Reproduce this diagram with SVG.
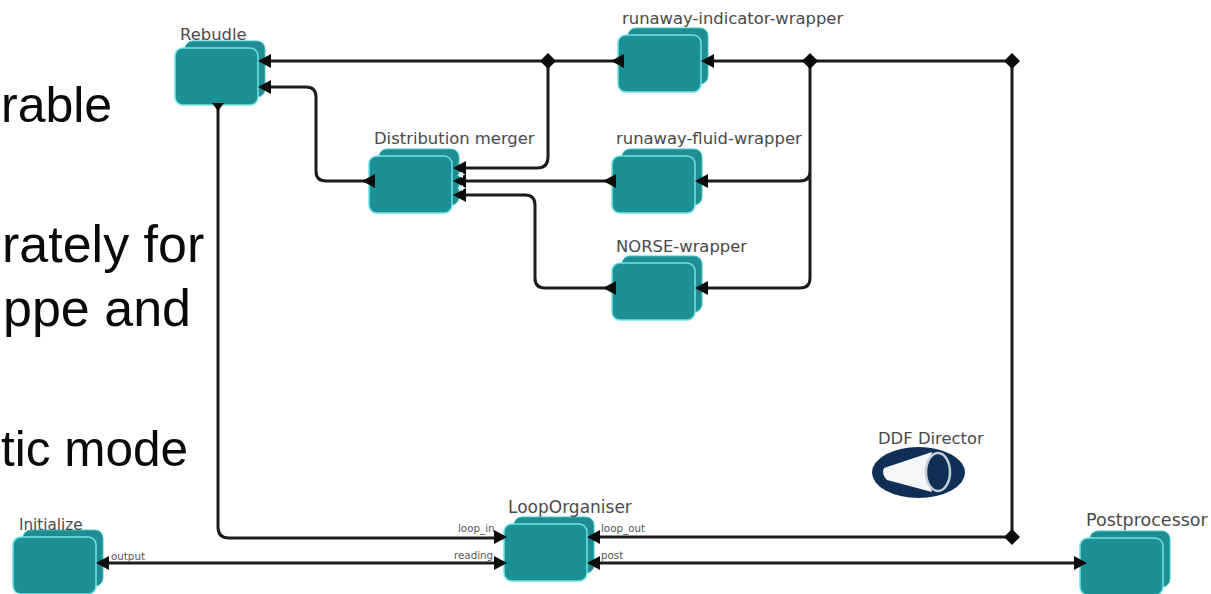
<svg xmlns="http://www.w3.org/2000/svg" width="1211" height="594" viewBox="0 0 1211 594">
<style>
.big{font-family:"Liberation Sans",Arial,sans-serif;font-size:52px;fill:#0a0a0a}
.lab{font-family:"DejaVu Sans",sans-serif;font-size:16.4px;fill:#4a4a4a}
.port{font-family:"DejaVu Sans",sans-serif;font-size:10.3px;fill:#555}
.back{fill:#1f8d91;stroke:#45c6c9;stroke-width:1}
.front{fill:#1b9196;stroke:#6fe3e6;stroke-width:1.5}
.w{fill:none;stroke:#1c1c1c;stroke-width:3}
.a{fill:#0c0c0c}
</style>
<defs>
<g id="pair"><rect class="back" x="10" y="-7" width="80" height="56" rx="8"/><rect class="front" x="0" y="0" width="83" height="57" rx="8"/></g>
<path id="d" d="M0-8L8 0L0 8L-8 0Z"/>
<path id="ar" d="M0 0L-13-7V7Z"/>
<path id="al" d="M0 0L13-7V7Z"/>
</defs>
<rect width="1211" height="594" fill="#fff"/>
<g id="slide-text">
<text class="big" x="1" y="122" style="font-size:50px">rable</text>
<text class="big" x="2" y="262">rately for</text>
<text class="big" x="3" y="326">ppe and</text>
<text class="big" x="1" y="466" style="font-size:49.500px">tic mode</text>
</g>
<g id="connectors">
<path class="w" d="M258 61H1012V537M586 537H1012"/>
<path class="w" d="M548 61V157Q548 168 537 168H455"/>
<path class="w" d="M258 87H306Q316 87 316 97V171Q316 181 326 181H368"/>
<path class="w" d="M453 181H800Q810 181 810 171V61M695 288H800Q810 288 810 278V171"/>
<path class="w" d="M455 195H525Q535 195 535 205V278Q535 288 545 288H612"/>
<path class="w" d="M218 105V527Q218 538 229 538H504"/>
<path class="w" d="M100 563H504M586 563H1082"/>
</g>
<g id="rebudle"><use href="#pair" x="175" y="48"/><text class="lab" x="180" y="40">Rebudle</text></g>
<g id="distribution-merger"><use href="#pair" x="369" y="156"/><text class="lab" x="374" y="144">Distribution merger</text></g>
<g id="runaway-indicator-wrapper"><use href="#pair" x="618" y="35"/><text class="lab" x="622" y="24">runaway-indicator-wrapper</text></g>
<g id="runaway-fluid-wrapper"><use href="#pair" x="612" y="156"/><text class="lab" x="616" y="144">runaway-fluid-wrapper</text></g>
<g id="norse-wrapper"><use href="#pair" x="612" y="263"/><text class="lab" x="616" y="252">NORSE-wrapper</text></g>
<g id="initialize"><use href="#pair" x="13" y="537"/><text class="lab" x="19" y="530" style="font-size:15.2px">Initialize</text><text class="port" x="111" y="560">output</text></g>
<g id="looporganiser"><use href="#pair" x="504" y="524"/><text class="lab" x="508" y="513" style="font-size:17px">LoopOrganiser</text>
<text class="port" x="458" y="532">loop_in</text><text class="port" x="454" y="559">reading</text><text class="port" x="601" y="532">loop_out</text><text class="port" x="601" y="559">post</text></g>
<g id="postprocessor"><use href="#pair" x="1080" y="538"/><text class="lab" x="1086" y="526" style="font-size:17.5px">Postprocessor</text></g>
<g id="ddf-director">
<text class="lab" x="878" y="444">DDF Director</text>
<ellipse cx="918.500" cy="472.500" rx="46.500" ry="25.500" fill="#0f2f56"/>
<path d="M884 468L932 452Q926 472 932 492L887 480Q881 474 884 468Z" fill="#f4f6f8"/>
<ellipse cx="938" cy="472" rx="12" ry="19" fill="#0f2f56" stroke="#c3ced8" stroke-width="2.500"/>
</g>
<g id="arrowheads" class="a">
<use href="#d" x="548" y="61"/><use href="#d" x="810" y="61"/><use href="#d" x="1012" y="61"/><use href="#d" x="1012" y="537"/>
<use href="#al" x="258" y="61"/><use href="#al" x="258" y="87"/><use href="#al" x="611" y="61"/><use href="#al" x="701" y="61"/>
<use href="#al" x="362" y="181"/><use href="#al" x="453" y="168"/><use href="#al" x="453" y="181"/><use href="#al" x="453" y="195"/>
<use href="#al" x="603" y="181"/><use href="#al" x="695" y="181"/><use href="#al" x="603" y="288"/><use href="#al" x="695" y="288"/>
<use href="#al" x="96" y="563"/><use href="#ar" x="507" y="537"/><use href="#ar" x="507" y="563"/><use href="#al" x="587" y="537"/><use href="#al" x="587" y="563"/><use href="#ar" x="1087" y="563"/>
<path d="M212 103H224L218 111Z"/>
<path d="M457 175L463 172V178ZM457 188L463 185V191Z" fill="#e6f4f4"/>
</g>
</svg>
